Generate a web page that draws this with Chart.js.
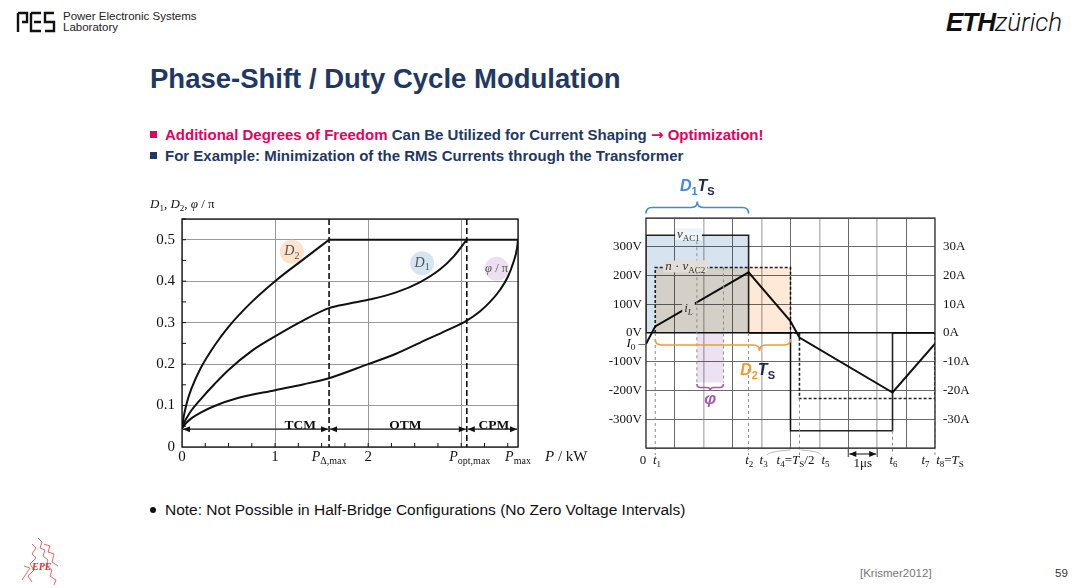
<!DOCTYPE html>
<html lang="en">
<head>
<meta charset="utf-8" />
<meta name="viewport" content="width=device-width, initial-scale=1" />
<title>Phase-Shift / Duty Cycle Modulation</title>
<script src="https://cdn.jsdelivr.net/npm/chart.js"></script>
<style>
  html, body { margin: 0; padding: 0; background: #fff; }
  body { position: relative; width: 1080px; height: 588px; overflow: hidden;
         font-family: "Liberation Sans Narrow", "Liberation Sans", Arial, sans-serif; color: #111; }
  .abs { position: absolute; white-space: nowrap; }
  .lab { font-size: 11.5px; line-height: 11px; color: #222; }
  .eth { font-family: "Liberation Sans", Arial, sans-serif; font-size: 26px; line-height: 28px; }
  .eth b { font-style: italic; font-weight: 900; letter-spacing: -1px; }
  .eth span { font-family: Roboto, "Liberation Sans", sans-serif; font-style: italic; font-weight: 300; }
  .title { font-size: 27.5px; line-height: 32px; font-weight: bold; color: #1f3864; }
  .bullet { font-size: 15px; line-height: 18px; font-weight: bold; color: #1f3864; }
  .pink { color: #e6005c; }
  .arrow { font-family: "DejaVu Sans", sans-serif; font-weight: bold; font-size: 15px; }
  .sq { display: inline-block; width: 7px; height: 7px; margin-right: 8px; vertical-align: 2px; }
  .note { font-size: 15.5px; line-height: 18px; color: #111; }
  .dot { display: inline-block; width: 6px; height: 6px; border-radius: 3px; background: #111; margin: 0 9px 2px 2px; }
  .foot { font-size: 11.5px; line-height: 14px; color: #777; }
  .chartbox { position: absolute; }
</style>
</head>
<body>
  <!-- header -->
  <svg class="abs" style="left:16px;top:11px" width="40" height="22" viewBox="0 0 40 22" fill="none" stroke="#111" stroke-width="2.4">
    <path d="M2 2 H11 V11 H6 M2 2 V21" />
    <path d="M15 2 H25 M15 2 V20 H25 M18 11 H25" />
    <path d="M38 2 H29 V11 H38 V20 H29" />
  </svg>
  <div class="abs lab" style="left:63px;top:11px">Power Electronic Systems<br>Laboratory</div>
  <div class="abs eth" style="left:946px;top:8px"><b>ETH</b><span>zürich</span></div>

  <div class="abs title" style="left:150px;top:63px">Phase-Shift / Duty Cycle Modulation</div>
  <div class="abs bullet" style="left:150px;top:126px"><span class="sq" style="background:#e6005c"></span><span class="pink">Additional Degrees of Freedom</span> Can Be Utilized for Current Shaping <span class="pink"><span class="arrow">&#8594;</span> Optimization!</span></div>
  <div class="abs bullet" style="left:150px;top:147px"><span class="sq" style="background:#1f3864"></span>For Example: Minimization of the RMS Currents through the Transformer</div>

  <div class="chartbox" style="left:140px;top:195px;width:460px;height:290px"><canvas id="dutyChart"></canvas></div>
  <div class="chartbox" style="left:600px;top:170px;width:380px;height:310px"><canvas id="waveChart"></canvas></div>

  <div class="abs note" style="left:148px;top:501px"><span class="dot"></span>Note: Not Possible in Half-Bridge Configurations (No Zero Voltage Intervals)</div>

  <!-- footer -->
  <svg class="abs" style="left:18px;top:536px" width="48" height="50" viewBox="0 0 48 50" fill="none" stroke="#e04040" stroke-width="0.8">
    <path d="M20 2 L24 6 L22 12 L27 14 L25 20 L30 24 L28 30 L34 34 L32 40 L38 44 L36 49" />
    <path d="M14 8 L18 12 L14 18 L18 22 L12 28 L16 34 L10 40 L14 46" />
    <path d="M26 8 L32 10 L30 16 L36 18 L34 26 L40 30" />
    <path d="M6 30 L12 32 L8 38 L4 44" />
    <text x="14" y="34" fill="#e03030" stroke="none" font-family="Liberation Serif" font-style="italic" font-weight="bold" font-size="10">EPE</text>
  </svg>
  <div class="abs foot" style="left:860px;top:566px">[Krismer2012]</div>
  <div class="abs foot" style="left:1055px;top:566px;color:#333">59</div>

<script>
// ---------- left chart: optimal duty cycles / phase shift vs. power ----------
const pD2 = [0, 0.02, 0.05, 0.1, 0.2, 0.35, 0.5, 0.75, 1.0, 1.3, 1.58];
const valD2 = [0.045, 0.075, 0.105, 0.14, 0.19, 0.245, 0.29, 0.35, 0.4, 0.452, 0.5];
const pD1 = [0, 0.02, 0.05, 0.1, 0.2, 0.35, 0.5, 0.75, 1.0, 1.3, 1.58, 1.8, 2.0, 2.3, 2.56, 2.77, 2.92, 3.06];
const valD1 = [0.045, 0.057, 0.07, 0.088, 0.115, 0.152, 0.186, 0.232, 0.267, 0.305, 0.335, 0.346, 0.355, 0.373, 0.398, 0.428, 0.46, 0.5];
const pPhi = [0, 0.02, 0.05, 0.1, 0.2, 0.35, 0.6, 1.0, 1.3, 1.58, 2.0, 2.3, 2.56, 2.85, 3.06, 3.2, 3.31, 3.42, 3.5, 3.56, 3.6, 3.61];
const valPhi = [0.045, 0.051, 0.059, 0.069, 0.083, 0.099, 0.118, 0.137, 0.151, 0.166, 0.2, 0.225, 0.252, 0.282, 0.305, 0.327, 0.35, 0.38, 0.41, 0.445, 0.48, 0.5];
const pLimits = [1.58, 3.06, 3.61];   // P_delta,max / P_opt,max / P_max in kW
const dutyMax = 0.5;
const modeNames = ['TCM', 'OTM', 'CPM'];
const dutyTicks = [0, 0.1, 0.2, 0.3, 0.4, 0.5];
const powerTicks = [0, 1, 2];

// ---------- right chart: waveforms over one switching period (us) ----------
const tEvents = [0, 0.32, 3.55, 4.0, 5.0, 5.31, 8.53, 9.95, 10];   // 0, t1 ... t8
const vAC1Level = 340;      // V
const vAC2Level = 228;      // n * vAC2, V
const iLTimes = [0, 0.32, 3.55, 4.99, 5.31, 8.53, 10];
const iLVals = [-3.8, 2.3, 21.1, 4.2, -1.6, -20.7, -3.7];   // A
const phiSpan = [1.76, 2.68];
const phiDepth = -172;
const voltTicks = [300, 200, 100, 0, -100, -200, -300];
const ampTicks = [30, 20, 10, 0, -10, -20, -30];

const SERIF = '"Liberation Serif", "DejaVu Serif", serif';
const SANS = '"Liberation Sans", Arial, sans-serif';
const pts = (xs, ys) => xs.map((x, i) => ({ x: x, y: ys[i] }));

// text with italic / subscript parts
function partFont(p, size, fam) {
  const sz = p.s ? Math.round(size * 0.7) : size;
  return (p.i ? 'italic ' : '') + (p.b ? 'bold ' : '') + sz + 'px ' + (p.f || fam);
}
function richText(ctx, parts, x, y, align, size, fam, color) {
  ctx.save();
  ctx.textBaseline = 'middle';
  ctx.textAlign = 'left';
  let w = 0;
  parts.forEach(p => { ctx.font = partFont(p, size, fam); p.w = ctx.measureText(p.t).width; w += p.w; });
  let cx = align === 'center' ? x - w / 2 : (align === 'right' ? x - w : x);
  parts.forEach(p => {
    ctx.font = partFont(p, size, fam);
    ctx.fillStyle = p.c || color;
    ctx.fillText(p.t, cx, p.s ? y + size * 0.3 : y);
    cx += p.w;
  });
  ctx.restore();
  return w;
}
function seg(ctx, x1, y1, x2, y2) {
  ctx.beginPath(); ctx.moveTo(x1, y1); ctx.lineTo(x2, y2); ctx.stroke();
}
function arrowHead(ctx, x, y, dir) {
  ctx.beginPath();
  ctx.moveTo(x, y);
  ctx.lineTo(x - dir * 7, y - 3);
  ctx.lineTo(x - dir * 7, y + 3);
  ctx.closePath();
  ctx.fill();
}
function dblArrow(ctx, x1, x2, y) {
  seg(ctx, x1, y, x2, y);
  arrowHead(ctx, x1, y, -1);
  arrowHead(ctx, x2, y, 1);
}
// curly brace, d = 1 tip points down, d = -1 tip points up
function brace(ctx, x1, x2, xm, y, d, r) {
  ctx.beginPath();
  ctx.moveTo(x1, y - d * r);
  ctx.quadraticCurveTo(x1, y, x1 + r, y);
  ctx.lineTo(xm - r, y);
  ctx.quadraticCurveTo(xm, y, xm, y + d * r);
  ctx.quadraticCurveTo(xm, y, xm + r, y);
  ctx.lineTo(x2 - r, y);
  ctx.quadraticCurveTo(x2, y, x2, y - d * r);
  ctx.stroke();
}

// ---------------- left chart ----------------
const dutyDecor = {
  id: 'dutyDecor',
  beforeDatasetsDraw(chart) {
    const { ctx, scales: { x, y } } = chart;
    const bubbles = [[1.18, 0.471, '#fbe3cc'], [2.58, 0.443, '#d6e5f2'], [3.38, 0.43, '#ecdff1']];
    ctx.save();
    bubbles.forEach(b => {
      ctx.beginPath();
      ctx.arc(x.getPixelForValue(b[0]), y.getPixelForValue(b[1]), 12, 0, 2 * Math.PI);
      ctx.fillStyle = b[2];
      ctx.fill();
    });
    ctx.restore();
  },
  afterDraw(chart) {
    const { ctx, chartArea: a, scales: { x, y } } = chart;
    const px = v => x.getPixelForValue(v);
    const py = v => y.getPixelForValue(v);
    ctx.save();
    ctx.strokeStyle = '#111';
    // mode boundaries
    ctx.lineWidth = 1.6;
    ctx.setLineDash([6, 3]);
    seg(ctx, px(pLimits[0]), a.top, px(pLimits[0]), a.bottom);
    seg(ctx, px(pLimits[1]), a.top, px(pLimits[1]), a.bottom);
    ctx.setLineDash([]);
    // frame
    ctx.lineWidth = 1.3;
    ctx.strokeRect(a.left, a.top, a.right - a.left, a.bottom - a.top);
    // minor ticks
    ctx.lineWidth = 1;
    for (let p = 0.25; p < pLimits[2]; p += 0.25) seg(ctx, px(p), a.bottom, px(p), a.bottom - 4);
    for (let v = 0.05; v < 0.55; v += 0.05) seg(ctx, a.left, py(v), a.left + 4, py(v));
    // operating mode arrows
    ctx.fillStyle = '#111';
    ctx.lineWidth = 1.2;
    const bounds = [0].concat(pLimits);
    for (let i = 0; i < 3; i++) dblArrow(ctx, px(bounds[i]) + 1, px(bounds[i + 1]) - 1, py(0.043));
    const modeX = [1.27, 2.4, 3.35];
    modeNames.forEach((m, i) => richText(ctx, [{ t: m, b: 1 }], px(modeX[i]), py(0.051), 'center', 13.5, SERIF, '#111'));
    // bubble labels
    richText(ctx, [{ t: 'D', i: 1 }, { t: '2', s: 1 }], px(1.18), py(0.471), 'center', 14, SERIF, '#555');
    richText(ctx, [{ t: 'D', i: 1 }, { t: '1', s: 1 }], px(2.58), py(0.443), 'center', 14, SERIF, '#555');
    richText(ctx, [{ t: 'φ', i: 1 }, { t: ' / π' }], px(3.38), py(0.43), 'center', 12.5, SERIF, '#555');
    // tick labels
    dutyTicks.forEach(v => richText(ctx, [{ t: v === 0 ? '0' : v.toFixed(1) }], a.left - 7, py(v), 'right', 15, SERIF, '#111'));
    const ly = a.bottom + 10;
    powerTicks.forEach(v => richText(ctx, [{ t: String(v) }], px(v), ly, 'center', 15, SERIF, '#111'));
    richText(ctx, [{ t: 'P', i: 1 }, { t: 'Δ,max', s: 1 }], px(pLimits[0]), ly, 'center', 14, SERIF, '#111');
    richText(ctx, [{ t: 'P', i: 1 }, { t: 'opt,max', s: 1 }], px(pLimits[1]) + 3, ly, 'center', 14, SERIF, '#111');
    richText(ctx, [{ t: 'P', i: 1 }, { t: 'max', s: 1 }], px(pLimits[2]), ly, 'center', 14, SERIF, '#111');
    richText(ctx, [{ t: 'P', i: 1 }, { t: ' / kW' }], a.right + 27, ly, 'left', 15, SERIF, '#111');
    richText(ctx, [{ t: 'D', i: 1 }, { t: '1', s: 1 }, { t: ', ' }, { t: 'D', i: 1 }, { t: '2', s: 1 }, { t: ', ' }, { t: 'φ', i: 1 }, { t: ' / π' }],
      a.left - 32, a.top - 14, 'left', 13, SERIF, '#111');
    ctx.restore();
  }
};

const curveStyle = { borderColor: '#111', borderWidth: 2, pointRadius: 0, cubicInterpolationMode: 'monotone', fill: false };

new Chart(document.getElementById('dutyChart'), {
  type: 'line',
  data: {
    datasets: [
      Object.assign({ label: 'D2', data: pts(pD2, valD2) }, curveStyle),
      Object.assign({ label: 'D2 limit', data: pts([pLimits[0], pLimits[2]], [dutyMax, dutyMax]) }, curveStyle),
      Object.assign({ label: 'D1', data: pts(pD1, valD1) }, curveStyle),
      Object.assign({ label: 'phi/pi', data: pts(pPhi, valPhi) }, curveStyle)
    ]
  },
  options: {
    responsive: true,
    maintainAspectRatio: false,
    animation: false,
    layout: { padding: { left: 42, top: 24, right: 82, bottom: 38 } },
    plugins: { legend: { display: false }, tooltip: { enabled: false } },
    scales: {
      x: {
        type: 'linear', min: 0, max: pLimits[2],
        ticks: { display: false, stepSize: 1 },
        border: { display: false },
        grid: { drawTicks: false, color: '#9a9a9a', lineWidth: 1 }
      },
      y: {
        min: 0, max: 0.55,
        ticks: { display: false, stepSize: 0.1 },
        border: { display: false },
        grid: { drawTicks: false, color: '#9a9a9a', lineWidth: 1 }
      }
    }
  },
  plugins: [dutyDecor]
});

// ---------------- right chart ----------------
const [, t1, t2, t3, t4, t5, t6, t7, t8] = tEvents;
const vAC1Wave = pts([0, 0, t2, t2, t4, t4, t6, t6, t8],
  [0, vAC1Level, vAC1Level, 0, 0, -vAC1Level, -vAC1Level, 0, 0]);
const vAC2Wave = pts([t1, t1, t4, t4, t5, t5, t8, t8],
  [0, vAC2Level, vAC2Level, 0, 0, -vAC2Level, -vAC2Level, 0]);

// overlapping light fills are multiplied like transparent foils
const multiplyFills = {
  id: 'multiplyFills',
  beforeDatasetsDraw(chart) { chart.ctx.save(); chart.ctx.globalCompositeOperation = 'multiply'; },
  afterDatasetsDraw(chart) { chart.ctx.restore(); }
};

const waveDecor = {
  id: 'waveDecor',
  afterDraw(chart) {
    const { ctx, chartArea: a, scales: { x, y, yA } } = chart;
    const px = v => x.getPixelForValue(v);
    const pv = v => y.getPixelForValue(v);
    ctx.save();
    // dashed guide lines
    ctx.strokeStyle = '#8c8c8c';
    ctx.lineWidth = 1;
    ctx.setLineDash([3, 3]);
    [[t1, 0], [t2, 0], [t5, -vAC2Level], [t6, -vAC1Level], [t8, -vAC2Level]]
      .forEach(g => seg(ctx, px(g[0]), pv(g[1]), px(g[0]), a.bottom + 7));
    seg(ctx, px(phiSpan[0]), pv(vAC1Level), px(phiSpan[0]), pv(phiDepth));
    seg(ctx, px(phiSpan[1]), pv(vAC2Level), px(phiSpan[1]), pv(phiDepth));
    ctx.setLineDash([]);
    // frame
    ctx.strokeStyle = '#333';
    ctx.lineWidth = 1.2;
    ctx.strokeRect(a.left, a.top, a.right - a.left, a.bottom - a.top);
    // 1 us scale mark
    ctx.strokeStyle = '#555';
    seg(ctx, px(7), a.bottom, px(7), a.bottom + 9);
    seg(ctx, px(8), a.bottom, px(8), a.bottom + 9);
    ctx.strokeStyle = '#111';
    ctx.fillStyle = '#111';
    ctx.lineWidth = 1;
    dblArrow(ctx, px(7) + 1, px(8) - 1, a.bottom + 6);
    richText(ctx, [{ t: '1μs' }], px(7.5), a.bottom + 16, 'center', 13, SERIF, '#111');

    // in-plot labels with a patch behind them
    const tag = (parts, t, yPix, bg, size) => {
      const w = richText(ctx, parts, -1000, 0, 'left', size, SERIF, 'rgba(0,0,0,0)');
      ctx.fillStyle = bg;
      ctx.fillRect(px(t) - w / 2 - 2, yPix - 6, w + 4, 12);
      richText(ctx, parts, px(t), yPix, 'center', size, SERIF, '#333');
    };
    tag([{ t: 'v', i: 1 }, { t: 'AC1', s: 1 }], 1.47, pv(vAC1Level) - 1, '#eef3f8', 13);
    tag([{ t: 'n', i: 1 }, { t: ' · ' }, { t: 'v', i: 1 }, { t: 'AC2', s: 1 }], 1.36, pv(vAC2Level) - 1, '#e2ddd6', 13);
    tag([{ t: 'i', i: 1 }, { t: 'L', i: 1, s: 1 }], 1.47, yA.getPixelForValue(8.6), '#d4d0c8', 13);

    // axis labels
    voltTicks.forEach(v => richText(ctx, [{ t: v + 'V' }], a.left - 4, pv(v), 'right', 13, SERIF, '#111'));
    ampTicks.forEach(v => richText(ctx, [{ t: v + 'A' }], a.right + 8, pv(v * 10), 'left', 13, SERIF, '#111'));
    richText(ctx, [{ t: 'I', i: 1 }, { t: '0', s: 1 }, { t: ' –' }], a.left - 1, yA.getPixelForValue(iLVals[0]), 'right', 13, SERIF, '#111');

    const ly = a.bottom + 13;
    const tLabels = [
      [{ t: '0' }],
      [{ t: 't', i: 1 }, { t: '1', s: 1 }],
      [{ t: 't', i: 1 }, { t: '2', s: 1 }],
      [{ t: 't', i: 1 }, { t: '3', s: 1 }],
      [{ t: 't', i: 1 }, { t: '4', s: 1 }, { t: '=' }, { t: 'T', i: 1 }, { t: 'S', s: 1 }, { t: '/2' }],
      [{ t: 't', i: 1 }, { t: '5', s: 1 }],
      [{ t: 't', i: 1 }, { t: '6', s: 1 }],
      [{ t: 't', i: 1 }, { t: '7', s: 1 }],
      [{ t: 't', i: 1 }, { t: '8', s: 1 }, { t: '=' }, { t: 'T', i: 1 }, { t: 'S', s: 1 }]
    ];
    const tShift = [-3, 1.7, 0.7, 2, 5, 26, 1, -8, 15];
    tLabels.forEach((parts, i) => richText(ctx, parts, px(tEvents[i]) + tShift[i], ly, 'center', 13, SERIF, '#111'));
    // leader lines for shifted labels
    ctx.strokeStyle = '#aaa';
    ctx.lineWidth = 0.8;
    ctx.beginPath();
    ctx.moveTo(px(t4) - 24, a.bottom + 7); ctx.quadraticCurveTo(px(t4) - 20, a.bottom + 3, px(t4), a.bottom + 2);
    ctx.moveTo(px(t5) + 1, a.bottom + 2); ctx.quadraticCurveTo(px(t5) + 20, a.bottom + 3, px(t5) + 22, a.bottom + 7);
    ctx.stroke();

    // braces
    const blue = '#3d8bd4', orange = '#f39a2e', purple = '#a35bb8', dark = '#1b2a4a';
    ctx.lineWidth = 1.6;
    ctx.strokeStyle = blue;
    brace(ctx, px(0), px(t2), (px(0) + px(t2)) / 2, a.top - 10.5, -1, 6);
    ctx.strokeStyle = orange;
    brace(ctx, px(t1), px(t4), px(3.93), pv(0) + 12, 1, 6);
    ctx.strokeStyle = purple;
    brace(ctx, px(phiSpan[0]), px(phiSpan[1]), (px(phiSpan[0]) + px(phiSpan[1])) / 2, pv(phiDepth) + 5, 1, 3.5);

    richText(ctx, [{ t: 'D', i: 1, b: 1, c: blue }, { t: '1', s: 1, b: 1, c: blue }, { t: 'T', i: 1, b: 1 }, { t: 'S', s: 1, b: 1 }],
      (px(0) + px(t2)) / 2, a.top - 31, 'center', 16, SANS, dark);
    richText(ctx, [{ t: 'D', i: 1, b: 1, c: orange }, { t: '2', s: 1, b: 1, c: orange }, { t: 'T', i: 1, b: 1 }, { t: 'S', s: 1, b: 1 }],
      px(3.93) - 2, pv(0) + 38, 'center', 16, SANS, dark);
    richText(ctx, [{ t: 'φ', i: 1, b: 1 }], (px(phiSpan[0]) + px(phiSpan[1])) / 2, pv(phiDepth) + 17, 'center', 17, SANS, purple);
    ctx.restore();
  }
};

new Chart(document.getElementById('waveChart'), {
  type: 'line',
  data: {
    datasets: [
      { label: 'vAC1 area', data: pts([0, t2], [vAC1Level, vAC1Level]), fill: 'origin', backgroundColor: '#d6e4f0', borderWidth: 0, pointRadius: 0, order: 10 },
      { label: 'vAC2 area', data: pts([t1, t4], [vAC2Level, vAC2Level]), fill: 'origin', backgroundColor: '#fde9d5', borderWidth: 0, pointRadius: 0, order: 9 },
      { label: 'phi', data: pts(phiSpan, [phiDepth, phiDepth]), fill: 'origin', backgroundColor: '#ede2f1', borderWidth: 0, pointRadius: 0, order: 8 },
      { label: 'vAC1', data: vAC1Wave, borderColor: '#222', borderWidth: 1.6, pointRadius: 0, fill: false, order: 3 },
      { label: 'n vAC2', data: vAC2Wave, borderColor: '#222', borderWidth: 1.6, borderDash: [3, 2], pointRadius: 0, fill: false, order: 2 },
      { label: 'iL', data: pts(iLTimes, iLVals), yAxisID: 'yA', borderColor: '#111', borderWidth: 2, pointRadius: 0, fill: false, order: 1 }
    ]
  },
  options: {
    responsive: true,
    maintainAspectRatio: false,
    animation: false,
    layout: { padding: { left: 46, top: 48, right: 45, bottom: 32 } },
    plugins: { legend: { display: false }, tooltip: { enabled: false } },
    elements: { line: { tension: 0 } },
    scales: {
      x: {
        type: 'linear', min: 0, max: t8,
        ticks: { display: false, stepSize: 1 },
        border: { display: false },
        grid: {
          drawTicks: false,
          color: c => (c.tick && c.tick.value % 2) ? '#6a6a6a' : '#bdbdbd',
          lineWidth: c => (c.tick && c.tick.value % 2) ? 1 : 1.6
        }
      },
      y: {
        min: -400, max: 400,
        ticks: { display: false, stepSize: 100 },
        border: { display: false },
        grid: {
          drawTicks: false,
          color: c => (c.tick && c.tick.value === 0) ? '#111' : '#6a6a6a',
          lineWidth: c => (c.tick && c.tick.value === 0) ? 1.5 : 1
        }
      },
      yA: { position: 'right', min: -40, max: 40, display: false }
    }
  },
  plugins: [multiplyFills, waveDecor]
});
</script>
</body>
</html>
